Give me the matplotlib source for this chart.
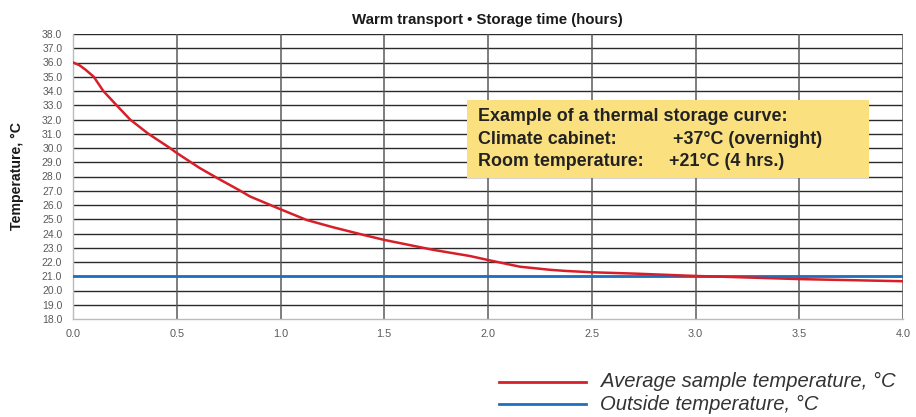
import matplotlib
matplotlib.use("Agg")
import matplotlib.pyplot as plt
from matplotlib.patches import Rectangle
from matplotlib.lines import Line2D

plt.rcParams['font.family'] = ['Liberation Sans', 'DejaVu Sans']

# Data
time_h = [0.0, 0.03, 0.06, 0.1, 0.146, 0.21, 0.275, 0.363, 0.467, 0.5, 0.61, 0.7,
          0.8, 0.853, 1.0, 1.126, 1.25, 1.4, 1.5, 1.737, 1.913, 2.0, 2.154, 2.3,
          2.379, 2.5, 2.717, 3.0, 3.12, 3.5, 4.0]
sample_temp = [36.0, 35.82, 35.5, 35.0, 34.0, 33.0, 32.0, 31.0, 30.0, 29.65, 28.6,
               27.85, 27.05, 26.6, 25.7, 24.95, 24.45, 23.9, 23.55, 22.85, 22.42,
               22.14, 21.67, 21.45, 21.37, 21.28, 21.18, 21.02, 20.97, 20.8, 20.65]
outside_time = [0.0, 4.0]
outside_temp = [21.0, 21.0]

y_ticks = [18.0 + i for i in range(21)]
x_ticks = [0.0, 0.5, 1.0, 1.5, 2.0, 2.5, 3.0, 3.5, 4.0]

title = "Warm transport \u2022 Storage time (hours)"
ylabel = "Temperature, \u00b0C"
note_head = "Example of a thermal storage curve:"
note_labels = ["Climate cabinet:", "Room temperature:"]
note_values = ["+37\u00b0C (overnight)", "+21\u00b0C (4 hrs.)"]
legend_labels = ["Average sample temperature, \u00b0C", "Outside temperature, \u00b0C"]

RED = "#d71f2a"
BLUE = "#1f6fbf"

W, H = 916, 417
fig = plt.figure(figsize=(W / 100, H / 100), dpi=100)
ax = fig.add_axes([73 / W, 1 - 319 / H, (903 - 73) / W, (319 - 34) / H])

ax.set_xlim(0, 4)
ax.set_ylim(18, 38)
ax.set_xticks(x_ticks)
ax.set_xticklabels([f"{v:.1f}" for v in x_ticks])
ax.set_yticks(y_ticks)
ax.set_yticklabels([f"{v:.1f}" for v in y_ticks])
ax.tick_params(axis="y", length=0, labelsize=7.5, labelcolor="#5a5a5a", pad=7.7)
ax.tick_params(axis="x", length=0, labelsize=7.8, labelcolor="#5a5a5a", pad=7.5)

for y in y_ticks[1:]:
    ax.axhline(y, color="#2a2a2a", lw=1.0, zorder=1)
for x in x_ticks[1:]:
    ax.axvline(x, color="#5a5a5a", lw=1.1, zorder=1)

for s in ["top", "right"]:
    ax.spines[s].set_visible(False)
for s in ["left", "bottom"]:
    ax.spines[s].set_color("#bbbbbb")
    ax.spines[s].set_linewidth(1.0)

ax.plot(outside_time, outside_temp, color=BLUE, lw=2.0, zorder=3)
ax.plot(time_h, sample_temp, color=RED, lw=1.8, zorder=4)


def fx(px):
    return px / W


def fy(py):
    return 1 - py / H


fig.text(fx(487.5), fy(20), title, fontsize=10.8, fontweight="bold", ha="center",
         va="center", color="#1a1a1a")
fig.text(fx(17), fy(176), ylabel, fontsize=10.2, fontweight="bold", rotation=90,
         ha="center", va="center", color="#1a1a1a")

# Annotation box
box = Rectangle((fx(467), fy(178)), (869 - 467) / W, (178 - 100) / H,
                transform=fig.transFigure, facecolor="#fbe080", edgecolor="none", zorder=5)
fig.patches.append(box)
fig.text(fx(478), fy(116.7), note_head, fontsize=12.9, fontweight="bold",
         va="center", ha="left", color="#222222", zorder=6)
value_x = [673, 669]
for lab, val, vx, ypx in zip(note_labels, note_values, value_x, [139.5, 161.5]):
    fig.text(fx(478), fy(ypx), lab, fontsize=12.9, fontweight="bold",
             va="center", ha="left", color="#222222", zorder=6)
    fig.text(fx(vx), fy(ypx), val, fontsize=12.9, fontweight="bold",
             va="center", ha="left", color="#222222", zorder=6)

# Legend
for color, lab, ypx in zip([RED, BLUE], legend_labels, [381.5, 404]):
    fig.add_artist(Line2D([fx(499), fx(586)], [fy(ypx), fy(ypx)],
                          transform=fig.transFigure, color=color, lw=2.0))
    fig.text(fx(600.5), fy(ypx), lab, fontsize=14.6, style="italic",
             va="center", ha="left", color="#333333")

fig.savefig("out.png", dpi=100)
